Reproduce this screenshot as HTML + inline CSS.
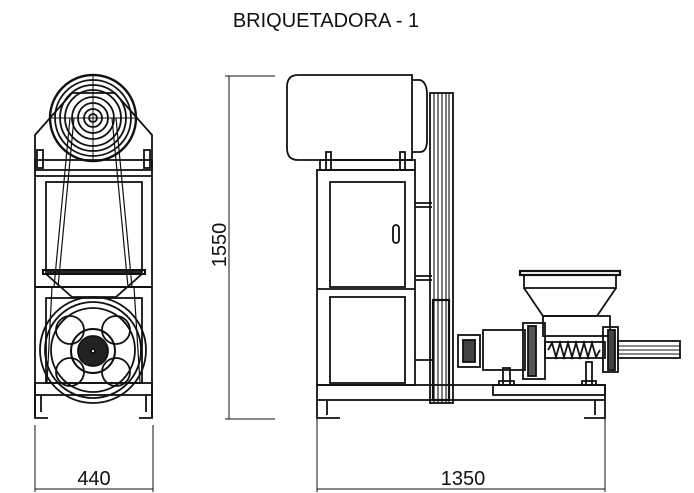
<!DOCTYPE html>
<html><head><meta charset="utf-8"><style>
html,body{margin:0;padding:0;background:#fff;}
svg{display:block;}
text{font-family:"Liberation Sans",sans-serif;fill:#111;}
</style></head><body>
<svg width="694" height="493" viewBox="0 0 694 493" xmlns="http://www.w3.org/2000/svg">
<text x="326" y="27" font-size="20" text-anchor="middle">BRIQUETADORA - 1</text>
<g fill="none" stroke="#111" stroke-width="1.8">
<!-- FRONT VIEW -->
<path d="M35,418 V135 L72,93 H115 L152,135 V418"/>
<circle cx="93" cy="118" r="43" stroke-width="2.4"/>
<circle cx="93" cy="118" r="38"/>
<circle cx="93" cy="118" r="33"/>
<circle cx="93" cy="118" r="28"/>
<circle cx="93" cy="118" r="21"/>
<circle cx="93" cy="118" r="15"/>
<circle cx="93" cy="118" r="9"/>
<circle cx="93" cy="118" r="4"/>
<line x1="50" y1="118" x2="136" y2="118" stroke-width="1"/>
<line x1="93" y1="76" x2="93" y2="160" stroke-width="1"/>
<rect x="35" y="160" width="117" height="10"/>
<rect x="37" y="150" width="6" height="18"/>
<rect x="144" y="150" width="6" height="18"/>
<rect x="46" y="182" width="96" height="90"/>
<line x1="35" y1="176" x2="152" y2="176"/>
<rect x="43" y="270" width="102" height="4" stroke-width="2"/>
<line x1="35" y1="287" x2="152" y2="287" stroke-width="2"/>
<path d="M46,274 L72,297 H116 L142,274"/>
<rect x="46" y="298" width="96" height="85"/>
<circle cx="93" cy="350" r="53"/>
<circle cx="93" cy="350" r="48"/>
<circle cx="93" cy="350" r="42"/>
<circle cx="70" cy="330" r="14"/><circle cx="116" cy="330" r="14"/>
<circle cx="70" cy="372" r="14"/><circle cx="116" cy="372" r="14"/>
<circle cx="93" cy="351" r="22" stroke-width="2"/>
<circle cx="93" cy="351" r="15" fill="#222"/>
<circle cx="93" cy="351" r="2" fill="#fff"/>
<path d="M52,287 L47,383 M134,287 L140,383" stroke-width="1.2"/>
<path d="M70,118 L54,287 M116,118 L132,287 M74,118 L58,287 M112,118 L128,287" stroke-width="1.2"/>
<rect x="35" y="383" width="117" height="12"/>
<path d="M35,395 V418 H48 M41,395 V412 M152,395 V418 H139 M146,395 V412"/>
<!-- 440 dim -->
<path d="M35,425 V492 M153,425 V492 M35,489 H153" stroke-width="1"/>
<!-- 1550 dim -->
<path d="M229,76 V419 M225,76 H275 M225,419 H275" stroke-width="1"/>
<!-- SIDE VIEW motor -->
<path d="M298,75 H412 V160 H298 Q287,160 287,148 V87 Q287,75 298,75 Z"/>
<path d="M412,80 H420 Q427,82 427,95 V140 Q427,152 420,152 H412"/>
<rect x="320" y="160" width="95" height="10"/>
<rect x="326" y="152" width="5" height="18"/><rect x="400" y="152" width="5" height="18"/>
<!-- cabinet -->
<rect x="317" y="170" width="98" height="215"/>
<rect x="330" y="182" width="75" height="105"/>
<rect x="393" y="225" width="6" height="18" rx="3"/>
<line x1="317" y1="289" x2="415" y2="289"/>
<rect x="330" y="297" width="75" height="86"/>
<!-- braces -->
<path d="M415,203 H432 M415,207 H432 M415,276 H432 M415,280 H432 M415,360 H432"/>
<!-- belt column -->
<rect x="430" y="93" width="23" height="310"/>
<path d="M434,93 V403 M438,93 V403 M442,93 V403 M446,93 V403 M449,93 V403" stroke-width="1.1"/>
<rect x="433" y="300" width="16" height="100" stroke-width="2.2"/>
<!-- base -->
<rect x="317" y="385" width="288" height="15"/>
<path d="M317,400 V418 H340 M327,400 V415 M605,400 V418 H584 M595,400 V415"/>
<rect x="493" y="385" width="112" height="10"/>
<!-- hopper -->
<rect x="520" y="271" width="100" height="4" stroke-width="2.2"/>
<path d="M524,275 V288 H616 V275"/>
<path d="M524,288 L543,316 H597 L616,288"/>
<rect x="543" y="316" width="67" height="20"/>
<!-- barrel -->
<rect x="458" y="335" width="22" height="32"/>
<rect x="463" y="340" width="12" height="22" fill="#444"/>
<rect x="483" y="330" width="42" height="40"/>
<rect x="523" y="323" width="22" height="56"/>
<rect x="528" y="326" width="8" height="50" fill="#555"/>
<rect x="545" y="342" width="60" height="16"/>
<path d="M548,350 l4,-7 l4,14 l4,-14 l4,14 l4,-14 l4,14 l4,-14 l4,14 l4,-14 l4,14 l4,-14 l4,14 l4,-7" stroke-width="1.8"/>
<rect x="603" y="327" width="15" height="45"/>
<rect x="608" y="330" width="7" height="40" fill="#444"/>
<rect x="618" y="341" width="62" height="17"/>
<path d="M618,346 H680 M618,350 H680 M618,354 H680" stroke-width="1"/>
<rect x="503" y="368" width="7" height="17"/><rect x="499" y="381" width="15" height="4"/>
<rect x="586" y="362" width="6" height="23"/><rect x="582" y="381" width="14" height="4"/>
<!-- 1350 dim -->
<path d="M317,404 V492 M605,404 V492 M317,489 H605" stroke-width="1"/>
</g>
<text x="94" y="485" font-size="20" text-anchor="middle">440</text>
<text x="463" y="485" font-size="20" text-anchor="middle">1350</text>
<text x="0" y="0" font-size="20" text-anchor="middle" transform="translate(226,245) rotate(-90)">1550</text>
</svg>
</body></html>
